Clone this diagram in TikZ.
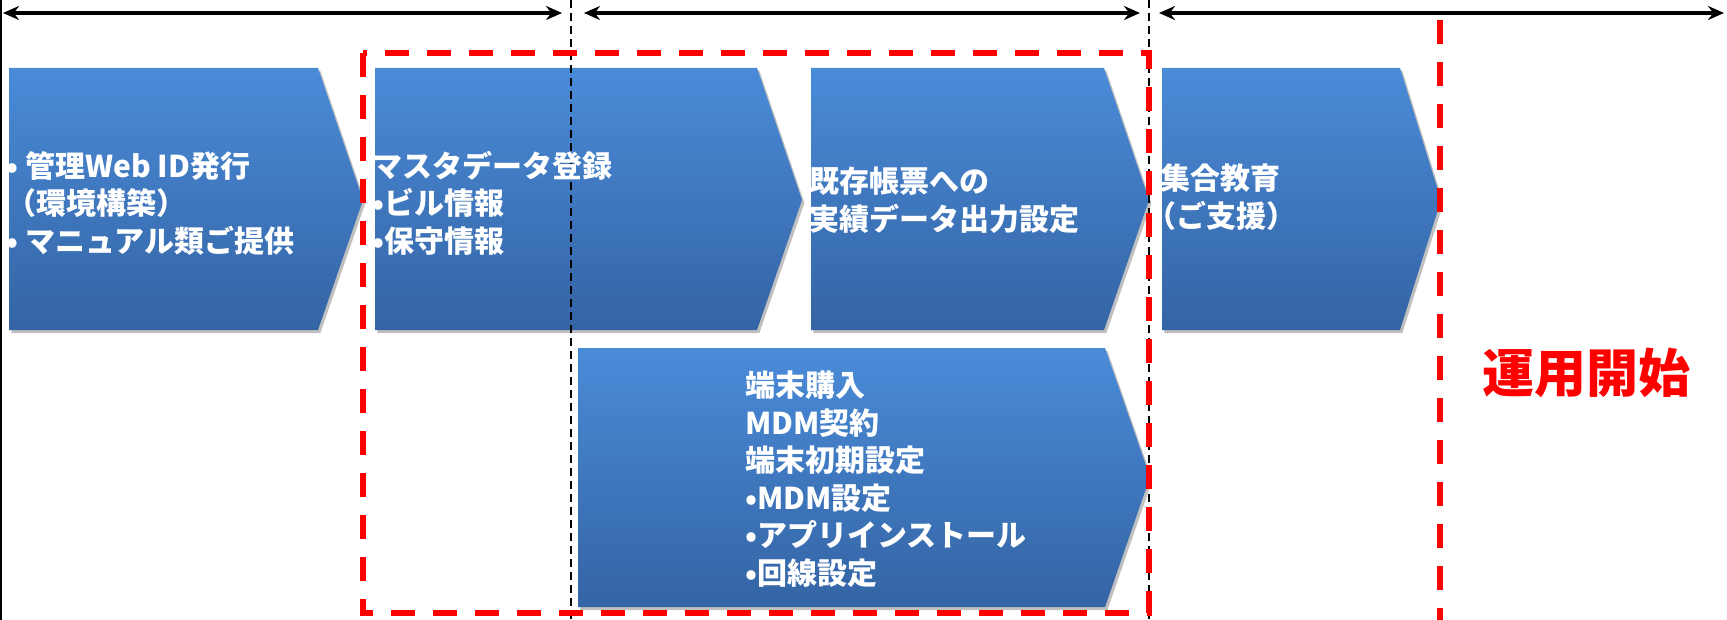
\documentclass[tikz,border=0pt]{standalone}
\usepackage{fontspec}
\newfontfamily\jpfont{Noto Sans CJK JP}
\usetikzlibrary{arrows.meta,shadows}
\definecolor{cTop}{RGB}{74,139,216}
\definecolor{cBot}{RGB}{52,100,164}
\definecolor{cRed}{RGB}{255,0,0}
\tikzset{
  chev/.style={top color=cTop, bottom color=cBot, draw=none,
    drop shadow={shadow xshift=1.2pt, shadow yshift=-1.5pt, opacity=0.35, fill=black!70}},
  lbl/.style={text=white, font=\jpfont\bfseries\fontsize{15}{18.75}\selectfont,
    align=left, anchor=west, inner sep=0pt},
  reddash/.style={draw=cRed, line width=2.6pt, dash pattern=on 12pt off 9pt},
  blkdash/.style={draw=black, line width=0.8pt, dash pattern=on 4pt off 2.5pt},
  spanarrow/.style={line width=2.2pt, {Stealth[length=8pt,width=7pt]}-{Stealth[length=8pt,width=7pt]}},
}
\begin{document}
\begin{tikzpicture}[x=0.5pt,y=-0.5pt]
\useasboundingbox (0,0) rectangle (1727,620);
\fill[white] (0,0) rectangle (1727,620);
% chevrons
\path[chev] (9,68) -- (318,68) -- (363,200) -- (318,330) -- (9,330) -- cycle;
\path[chev] (375,68) -- (757,68) -- (802,200) -- (757,330) -- (375,330) -- cycle;
\path[chev] (811,68) -- (1104,68) -- (1149,200) -- (1104,330) -- (811,330) -- cycle;
\path[chev] (1162,68) -- (1400,68) -- (1441,200) -- (1400,330) -- (1162,330) -- cycle;
\path[chev] (578,348) -- (1105,348) -- (1150,477) -- (1105,607) -- (578,607) -- cycle;
% guides
\draw[black, line width=0.8pt] (1,0) -- (1,620);
\coordinate (g1t) at (571,0); \coordinate (g1b) at (571,620);
\coordinate (g2t) at (1149,0); \coordinate (g2b) at (1149,620);
\draw[blkdash] (g1t) -- (g1b);
\draw[blkdash] (g2t) -- (g2b);
% span arrows
\coordinate (a1l) at (3,13); \coordinate (a1r) at (562,13);
\coordinate (a2l) at (584,13); \coordinate (a2r) at (1140,13);
\coordinate (a3l) at (1159,13); \coordinate (a3r) at (1724,13);
\draw[spanarrow] (a1l) -- (a1r);
\draw[spanarrow] (a2l) -- (a2r);
\draw[spanarrow] (a3l) -- (a3r);
% red dashed frame and start line
\draw[reddash] (363,53) rectangle (1149,613);
\coordinate (rt) at (1440,20); \coordinate (rb) at (1440,620);
\draw[reddash] (rt) -- (rb);
% labels
\node[lbl] (t1) at (6,203) {• 管理Web ID発行\\（環境構築）\\• マニュアル類ご提供};
\node[lbl] (t2) at (372,203) {マスタデータ登録\\•ビル情報\\•保守情報};
\node[lbl] (t3) at (809,200) {既存帳票への\\実績データ出力設定};
\node[lbl] (t4) at (1160,197) {集合教育\\\hspace*{-0.45em}（ご支援）};
\node[lbl] (t5) at (745,479) {端末購入\\MDM契約\\端末初期設定\\•MDM設定\\•アプリインストール\\•回線設定};
\node[text=cRed, font=\jpfont\bfseries\fontsize{26}{30}\selectfont, inner sep=0pt] (start) at (1586,373) {運用開始};
\end{tikzpicture}
\end{document}
